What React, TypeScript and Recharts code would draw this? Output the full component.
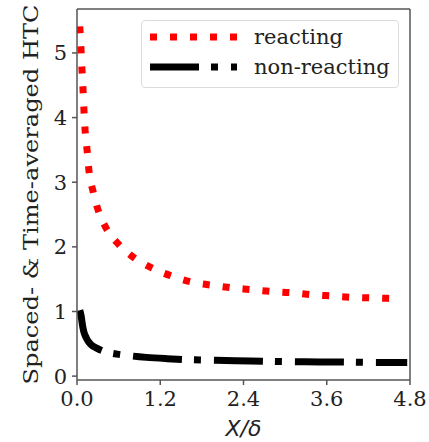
import React from "react";
import { LineChart, Line, XAxis, YAxis, Label } from "recharts";

// reacting HTC (red dotted)
const reactX = [0.04, 0.058, 0.072, 0.087, 0.1, 0.116, 0.145, 0.173, 0.231, 0.304, 0.42, 0.607, 0.824, 1.084, 1.359, 1.634, 1.92, 2.2, 2.49, 2.79, 3.09, 3.38, 3.67, 3.96, 4.25, 4.6];
const reactY = [5.41, 5.05, 4.74, 4.43, 4.12, 3.81, 3.5, 3.17, 2.86, 2.57, 2.29, 2.03, 1.83, 1.67, 1.55, 1.46, 1.41, 1.37, 1.34, 1.31, 1.29, 1.26, 1.24, 1.22, 1.21, 1.2];

// non-reacting HTC (black dash-dot)
const nonReactX = [0.04, 0.06, 0.08, 0.1, 0.13, 0.16, 0.2, 0.29, 0.4, 0.58, 0.8, 1.0, 1.3, 1.6, 2.0, 2.5, 3.0, 3.5, 4.0, 4.4, 4.76];
const nonReactY = [1.02, 0.93, 0.78, 0.68, 0.6, 0.54, 0.49, 0.43, 0.38, 0.34, 0.31, 0.29, 0.27, 0.255, 0.245, 0.235, 0.225, 0.22, 0.215, 0.21, 0.21];

const xTicks = [0, 1.2, 2.4, 3.6, 4.8];
const yTicks = [0, 1, 2, 3, 4, 5];

const reacting = reactX.map((x, i) => ({ x, y: reactY[i] }));
const nonReacting = nonReactX.map((x, i) => ({ x, y: nonReactY[i] }));

const FONT = "'DejaVu Serif', serif";
const AXIS = "#555";
const RED_DASH = "7 13";
const BLACK_DASH = "49 12 7 13";

const YLabel = () => {
    const cy = 9 + (380 - 9) / 2;
    return (
        <text
            x={0}
            y={0}
            transform={`translate(31, ${cy}) rotate(-90)`}
            textAnchor="middle"
            dominantBaseline="central"
            fontFamily={FONT}
            fontSize={21}
            fill="#222"
            textLength={380}
            lengthAdjust="spacingAndGlyphs"
        >
            Spaced- &amp; Time-averaged HTC
        </text>
    );
};

const LegendBox = () => (
    <div
        style={{
            position: "absolute",
            left: 141,
            top: 20,
            width: 256,
            height: 66,
            border: "1px solid #dcdcdc",
            borderRadius: 4,
            background: "rgba(255,255,255,0.8)",
        }}
    >
        <svg width={256} height={66} style={{ position: "absolute", left: 0, top: 0 }}>
            <line x1={8} y1={16} x2={95} y2={16} stroke="#f00" strokeWidth={7} strokeDasharray={RED_DASH} />
            <line x1={8} y1={46} x2={95} y2={46} stroke="#000" strokeWidth={7} strokeDasharray={BLACK_DASH} />
            <text x={112} y={23} fontFamily={FONT} fontSize={21} fill="#222">reacting</text>
            <text x={112} y={53} fontFamily={FONT} fontSize={21} fill="#222">non-reacting</text>
        </svg>
    </div>
);

export default function App() {
    return (
        <div style={{ position: "absolute", left: 0, top: 0, width: 429, height: 442, background: "#fff" }}>
            <LineChart width={429} height={442} margin={{ top: 8, right: 18, bottom: 0, left: 0 }}>
                <XAxis
                    dataKey="x"
                    type="number"
                    domain={[0, 4.8]}
                    ticks={xTicks}
                    tickFormatter={(v: number) => v.toFixed(1)}
                    allowDataOverflow
                    height={62}
                    tickSize={5}
                    tickMargin={6}
                    stroke={AXIS}
                    strokeWidth={1.5}
                    tick={{ fill: "#222", fontSize: 21, fontFamily: FONT }}
                >
                    <Label
                        value="X/δ"
                        position="insideBottom"
                        offset={6}
                        style={{ fontFamily: "'DejaVu Sans', sans-serif", fontSize: 22, fontStyle: "italic", fill: "#222" }}
                    />
                </XAxis>
                <XAxis xAxisId="top" orientation="top" type="number" domain={[0, 4.8]} height={1} tick={false} tickLine={false} stroke={AXIS} strokeWidth={1.5} />
                <YAxis
                    type="number"
                    domain={[-0.06, 5.68]}
                    ticks={yTicks}
                    allowDataOverflow
                    width={77}
                    tickSize={5}
                    tickMargin={5}
                    stroke={AXIS}
                    strokeWidth={1.5}
                    tick={{ fill: "#222", fontSize: 21, fontFamily: FONT }}
                    label={<YLabel />}
                />
                <YAxis yAxisId="right" orientation="right" type="number" domain={[-0.06, 5.68]} width={1} tick={false} tickLine={false} stroke={AXIS} strokeWidth={1.5} />
                <Line
                    data={reacting}
                    dataKey="y"
                    type="monotone"
                    stroke="#f00"
                    strokeWidth={7}
                    strokeDasharray={RED_DASH}
                    dot={false}
                    isAnimationActive={false}
                />
                <Line
                    data={nonReacting}
                    dataKey="y"
                    type="monotone"
                    stroke="#000"
                    strokeWidth={7}
                    strokeDasharray={BLACK_DASH}
                    dot={false}
                    isAnimationActive={false}
                />
            </LineChart>
            <LegendBox />
        </div>
    );
}
